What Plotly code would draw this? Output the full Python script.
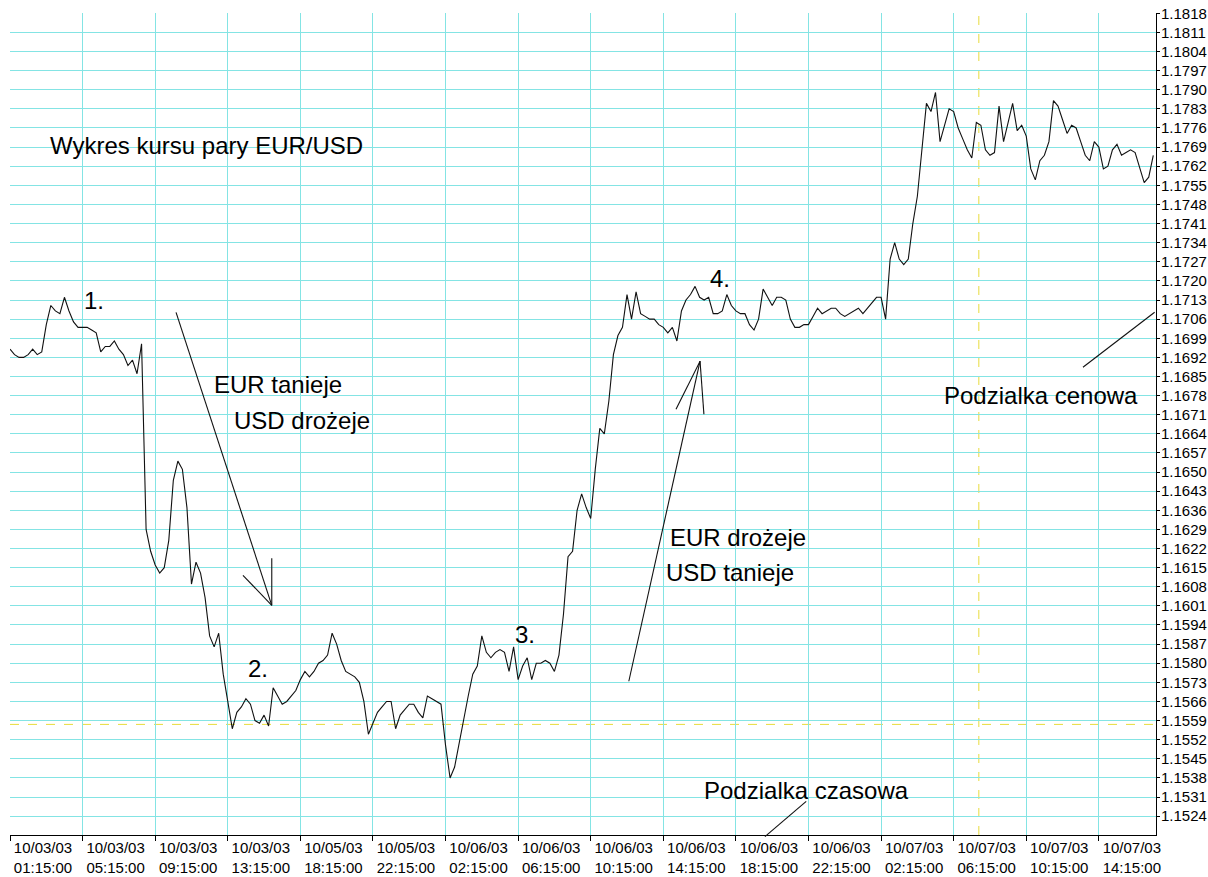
import plotly.graph_objects as go

# 15-minute bars (index) and closing prices of EUR/USD
bar_index = list(range(253))
price = [
    1.1695, 1.1693, 1.1692, 1.1692, 1.1693, 1.1695, 1.1693, 1.1694, 1.1704, 1.1711,
    1.1709, 1.1708, 1.1714, 1.1709, 1.1705, 1.1703, 1.1703, 1.1703, 1.1702, 1.1701,
    1.1694, 1.1696, 1.1696, 1.1698, 1.1695, 1.1693, 1.1689, 1.1691, 1.1686, 1.1697,
    1.1629, 1.1621, 1.1616, 1.1613, 1.1615, 1.1625, 1.1647, 1.1654, 1.1651, 1.1637,
    1.1609, 1.1617, 1.1613, 1.1604, 1.1590, 1.1586, 1.1591, 1.1576, 1.1566, 1.1556,
    1.1562, 1.1564, 1.1567, 1.1565, 1.1559, 1.1558, 1.1561, 1.1557, 1.1571, 1.1568,
    1.1565, 1.1566, 1.1568, 1.1570, 1.1574, 1.1577, 1.1575, 1.1577, 1.1580, 1.1581,
    1.1583, 1.1591, 1.1587, 1.1581, 1.1577, 1.1576, 1.1575, 1.1573, 1.1566, 1.1554,
    1.1558, 1.1562, 1.1564, 1.1566, 1.1566, 1.1556, 1.1561, 1.1563, 1.1565, 1.1565,
    1.1562, 1.1560, 1.1568, 1.1567, 1.1566, 1.1565, 1.1550, 1.1538, 1.1542, 1.1551,
    1.1559, 1.1568, 1.1576, 1.1579, 1.1590, 1.1584, 1.1582, 1.1584, 1.1585, 1.1584,
    1.1577, 1.1586, 1.1574, 1.1579, 1.1582, 1.1574, 1.1580, 1.1580, 1.1581, 1.1580,
    1.1577, 1.1583, 1.1598, 1.1619, 1.1621, 1.1636, 1.1642, 1.1637, 1.1633, 1.1651,
    1.1666, 1.1664, 1.1676, 1.1693, 1.1700, 1.1703, 1.1715, 1.1706, 1.1716, 1.1708,
    1.1707, 1.1706, 1.1706, 1.1704, 1.1703, 1.1701, 1.1703, 1.1698, 1.1709, 1.1713,
    1.1715, 1.1718, 1.1714, 1.1713, 1.1714, 1.1708, 1.1708, 1.1709, 1.1715, 1.1711,
    1.1709, 1.1708, 1.1708, 1.1704, 1.1702, 1.1706, 1.1717, 1.1714, 1.1711, 1.1714,
    1.1714, 1.1713, 1.1706, 1.1703, 1.1703, 1.1704, 1.1704, 1.1707, 1.1710, 1.1708,
    1.1709, 1.1710, 1.1710, 1.1708, 1.1707, 1.1708, 1.1709, 1.1710, 1.1708, 1.1710,
    1.1712, 1.1714, 1.1714, 1.1706, 1.1728, 1.1734, 1.1728, 1.1726, 1.1728, 1.1741,
    1.1751, 1.1768, 1.1785, 1.1782, 1.1789, 1.1771, 1.1777, 1.1783, 1.1782, 1.1776,
    1.1772, 1.1768, 1.1765, 1.1778, 1.1777, 1.1768, 1.1766, 1.1767, 1.1784, 1.1771,
    1.1778, 1.1785, 1.1775, 1.1777, 1.1773, 1.1761, 1.1757, 1.1764, 1.1766, 1.1771,
    1.1786, 1.1784, 1.1779, 1.1774, 1.1777, 1.1776, 1.1771, 1.1766, 1.1764, 1.1771,
    1.1769, 1.1761, 1.1762, 1.1768, 1.1770, 1.1766, 1.1767, 1.1768, 1.1767, 1.1761,
    1.1756, 1.1758, 1.1766,
]

# time axis labels (every 16 bars = 4 hours)
tick_bars = [0, 16, 32, 48, 64, 80, 96, 112, 128, 144, 160, 176, 192, 208, 224, 240]
tick_dates = ["10/03/03", "10/03/03", "10/03/03", "10/03/03", "10/05/03", "10/05/03",
              "10/06/03", "10/06/03", "10/06/03", "10/06/03", "10/06/03", "10/06/03",
              "10/07/03", "10/07/03", "10/07/03", "10/07/03"]
tick_times = ["01:15:00", "05:15:00", "09:15:00", "13:15:00", "18:15:00", "22:15:00",
              "02:15:00", "06:15:00", "10:15:00", "14:15:00", "18:15:00", "22:15:00",
              "02:15:00", "06:15:00", "10:15:00", "14:15:00"]
tick_text = [f"{d}<br>{t}" for d, t in zip(tick_dates, tick_times)]

# price scale
price_min, price_max, price_step = 1.15171, 1.18181, 0.0007
price_tick0 = 1.1524

# crosshair (yellow dotted lines)
cross_bar, cross_price = 213.55, 1.15576

FONT = "Liberation Sans, Arial, sans-serif"
GRID = "#84E4E4"

fig = go.Figure()
fig.add_trace(go.Scatter(x=bar_index, y=price, mode="lines",
                         line=dict(color="#111111", width=1.1),
                         hoverinfo="skip", showlegend=False))

# text annotations: (bar, price, text, anchor)
texts = [
    (8.37, 1.17697, "Wykres kursu pary EUR/USD", "left"),
    (18.5, 1.1713, "1.", "center"),
    (44.5, 1.16821, "EUR tanieje", "left"),
    (48.9, 1.1669, "USD drożeje", "left"),
    (54.7, 1.15782, "2.", "center"),
    (113.5, 1.15906, "3.", "center"),
    (145.0, 1.16261, "EUR drożeje", "left"),
    (144.1, 1.16133, "USD tanieje", "left"),
    (156.5, 1.1721, "4.", "center"),
    (205.4, 1.16781, "Podzialka cenowa", "left"),
    (152.5, 1.15335, "Podzialka czasowa", "left"),
]
for bx, py, txt, anc in texts:
    fig.add_annotation(x=bx, y=py, xref="x", yref="y", text=txt, showarrow=False,
                       xanchor=anc, yanchor="middle",
                       font=dict(family=FONT, size=24, color="black"))

# arrows and pointer lines drawn as line segments (bar, price)
segments = [
    ((36.6, 1.17085), (57.7, 1.16012)),
    ((51.35, 1.16122), (57.7, 1.16012)),
    ((57.7, 1.16184), (57.7, 1.16012)),
    ((136.4, 1.15734), (152.1, 1.16906)),
    ((146.8, 1.1673), (152.1, 1.16906)),
    ((152.1, 1.16906), (152.95, 1.16712)),
    ((236.5, 1.16884), (252.3, 1.17085)),
]
for (x0, y0), (x1, y1) in segments:
    fig.add_shape(type="line", xref="x", yref="y", x0=x0, y0=y0, x1=x1, y1=y1,
                  line=dict(color="#111111", width=1.1))
# time-scale pointer (extends to the axis line)
fig.add_shape(type="line", xref="x", yref="paper", x0=166.4, y0=-0.002, x1=175.5, y1=0.041,
              line=dict(color="#111111", width=1.1))

# yellow crosshair
fig.add_shape(type="line", xref="paper", yref="y", x0=0, x1=1, y0=cross_price, y1=cross_price,
              line=dict(color="#E8DC3C", width=1, dash="dash"), layer="below")
fig.add_shape(type="line", xref="x", yref="paper", x0=cross_bar, x1=cross_bar, y0=0, y1=1,
              line=dict(color="#E8DC3C", width=1, dash="dash"), layer="below")

fig.update_layout(
    width=1208, height=877,
    margin=dict(l=10, r=52, t=13, b=42, pad=0),
    paper_bgcolor="white", plot_bgcolor="white",
    showlegend=False,
    font=dict(family=FONT, size=15, color="black"),
    xaxis=dict(range=[0, 252.6], tickmode="array", tickvals=tick_bars, ticktext=tick_text,
               showgrid=True, gridcolor=GRID, gridwidth=1, zeroline=False,
               showline=True, linecolor="black", linewidth=1, automargin=False,
               ticks="outside", ticklen=5, tickcolor="black", ticklabelstandoff=-6,
               ticklabelshift=33, tickfont=dict(family=FONT, size=15, color="black")),
    yaxis=dict(range=[price_min, price_max], side="right", tick0=price_tick0, dtick=price_step,
               tickformat=".4f", showgrid=True, gridcolor=GRID, gridwidth=1, zeroline=False,
               showline=True, linecolor="black", linewidth=1, automargin=False,
               ticks="outside", ticklen=3, tickcolor="black", ticklabelstandoff=-2,
               tickfont=dict(family=FONT, size=15, color="black")),
)

fig.write_html("out.html", config={"displayModeBar": False},
               post_script="document.body.style.margin='0';document.body.style.padding='0';")
